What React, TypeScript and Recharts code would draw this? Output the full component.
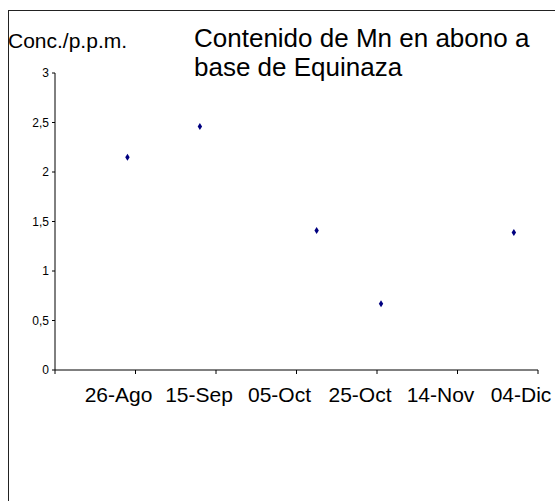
import { ScatterChart, Scatter, XAxis, YAxis } from 'recharts';

// fechas de muestreo y concentración de Mn (p.p.m.)
const sampleDates = ['2005-08-24', '2005-09-11', '2005-10-10', '2005-10-26', '2005-11-28'];
const mnValues = [2.15, 2.46, 1.41, 0.67, 1.39];

const xTickDates = ['2005-08-06', '2005-08-26', '2005-09-15', '2005-10-05', '2005-10-25', '2005-11-14', '2005-12-04'];
const xTickLabels = ['', '26-Ago', '15-Sep', '05-Oct', '25-Oct', '14-Nov', '04-Dic'];
const yTicks = [0, 0.5, 1, 1.5, 2, 2.5, 3];

const toTime = (d: string) => {
  const [y, m, day] = d.split('-').map(Number);
  return Date.UTC(y, m - 1, day);
};

const data = sampleDates.map((d, i) => ({ x: toTime(d), y: mnValues[i] }));
const xTicks = xTickDates.map(toTime);

const FONT = '"Liberation Sans", Arial, sans-serif';

function DateTick(props: any) {
  const { x, y, payload } = props;
  const idx = xTicks.indexOf(payload.value);
  return (
    <text x={x} y={y} dx={-17} dy={26} textAnchor="middle" fontSize={21} fontFamily={FONT} fill="#000">
      {idx >= 0 ? xTickLabels[idx] : ''}
    </text>
  );
}

function Diamond(props: any) {
  const { cx, cy } = props;
  if (cx == null || cy == null) return null;
  return (
    <polygon
      points={`${cx},${cy - 3.5} ${cx + 2.2},${cy} ${cx},${cy + 3.5} ${cx - 2.2},${cy}`}
      fill="#000080"
    />
  );
}

export default function App() {
  return (
    <div style={{ position: 'relative', width: 555, height: 501, overflow: 'hidden', fontFamily: FONT }}>
      <style>{'body{margin:0;overflow:hidden}'}</style>
      <div
        style={{
          position: 'absolute',
          left: 8,
          top: 10,
          width: 700,
          height: 700,
          borderLeft: '1px solid #222',
          borderTop: '1px solid #222',
        }}
      />
      <div style={{ position: 'absolute', left: 8, top: 30, fontSize: 21, lineHeight: '21px', whiteSpace: 'nowrap' }}>
        Conc./p.p.m.
      </div>
      <div style={{ position: 'absolute', left: 194, top: 24, fontSize: 26, lineHeight: '28.5px', whiteSpace: 'nowrap' }}>
        Contenido de Mn en abono a
        <br />
        base de Equinaza
      </div>
      <div style={{ position: 'absolute', left: 0, top: 0 }}>
        <ScatterChart width={555} height={501} margin={{ top: 73, right: 17, left: 8, bottom: 91 }}>
          <XAxis
            type="number"
            dataKey="x"
            domain={[xTicks[0], xTicks[xTicks.length - 1]]}
            ticks={xTicks}
            interval={0}
            height={40}
            tickSize={4}
            tickMargin={2}
            stroke="#000"
            tickLine={{ stroke: '#000' }}
            tick={<DateTick />}
          />
          <YAxis
            type="number"
            dataKey="y"
            domain={[0, 3]}
            ticks={yTicks}
            interval={0}
            width={47}
            tickSize={3}
            tickMargin={3}
            stroke="#000"
            tick={{ fontSize: 12, fill: '#000', fontFamily: FONT }}
            tickFormatter={(v: number) => String(v).replace('.', ',')}
          />
          <Scatter data={data} shape={<Diamond />} isAnimationActive={false} />
        </ScatterChart>
      </div>
    </div>
  );
}
